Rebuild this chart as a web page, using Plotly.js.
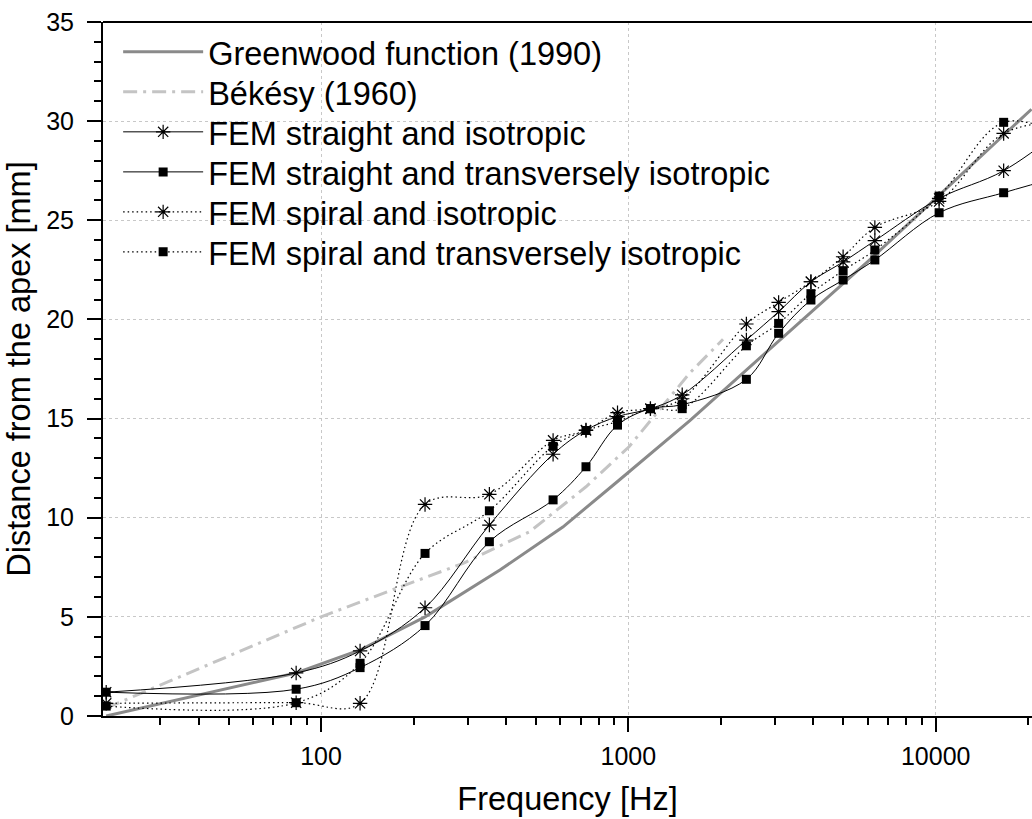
<!DOCTYPE html>
<html>
<head>
<meta charset="utf-8">
<script src="https://cdn.plot.ly/plotly-3.0.1.min.js"></script>
<style>html,body{margin:0;padding:0;background:#fff;}#chart{width:1032px;height:819px;}</style>
</head>
<body>
<div id="chart"></div>
<script>
// Frequencies of the FEM evaluation points [Hz] (last one lies beyond the visible range)
const femFreq = [20, 83, 134, 218, 353, 569, 728, 922, 1180, 1497, 2421, 3083, 3927, 4998, 6340, 10260, 16640, 26900];
// Distance from the apex [mm]
const straightIso   = [1.2, 2.17, 3.28, 5.46, 9.63, 13.2, 14.42, 15.1, 15.5, 16.2, 18.96, 20.39, 21.9, 22.9, 23.97, 26.1, 27.5, 29.8];
const straightTrans = [1.2, 1.35, 2.44, 4.56, 8.79, 10.9, 12.57, 14.67, 15.5, 15.7, 16.98, 19.3, 20.98, 21.99, 23.0, 25.38, 26.39, 27.3];
const spiralIso     = [0.64, 0.67, 0.64, 10.67, 11.18, 13.9, 14.4, 15.3, 15.5, 16.0, 19.77, 20.86, 21.9, 23.16, 24.64, 25.95, 29.38, 30.0];
const spiralTrans   = [0.5, 0.67, 2.66, 8.2, 10.35, 13.6, 14.4, 14.85, 15.5, 15.5, 18.67, 19.8, 21.3, 22.46, 23.5, 26.22, 29.94, 29.2];

const greenwoodFreq = [20, 83, 134, 218, 382, 612, 918, 1585, 6098, 20500];
const greenwoodDist = [0, 2.17, 3.33, 5.0, 7.36, 9.53, 11.8, 14.9, 23.0, 30.6];

const bekesyFreq = [20, 100, 176, 290, 478, 728, 1005, 1265, 1585, 2033];
const bekesyDist = [0.4, 5.0, 6.44, 7.7, 9.3, 11.56, 13.58, 15.43, 17.3, 19.0];

const seriesNames = [
  'Greenwood function (1990)',
  'Békésy (1960)',
  'FEM straight and isotropic',
  'FEM straight and transversely isotropic',
  'FEM spiral and isotropic',
  'FEM spiral and transversely isotropic'
];

const xTickVals = [100, 1000, 10000];
const xTickText = ['100', '1000', '10000'];
const xMinorVals = [30,40,50,60,70,80,90,200,300,400,500,600,700,800,900,2000,3000,4000,5000,6000,7000,8000,9000,20000];

const FONT = 'Liberation Sans, Arial, Helvetica, sans-serif';
const legendIds = ['legend', 'legend2', 'legend3', 'legend4', 'legend5', 'legend6'];
const legendRowY = [0.9565, 0.8988, 0.8412, 0.7835, 0.7259, 0.6683];

const dotted = '1.5px,3px';
const traces = [
  {x: greenwoodFreq, y: greenwoodDist, mode: 'lines',
   line: {color: '#8a8a8a', width: 3}},
  {x: bekesyFreq, y: bekesyDist, mode: 'lines',
   line: {color: '#c4c4c4', width: 3, dash: '14px,6px,3px,6px'}},
  {x: femFreq, y: straightIso, mode: 'lines+markers',
   line: {color: '#000', width: 1, shape: 'spline', smoothing: 1},
   marker: {symbol: 'asterisk-open', size: 12, color: '#000', line: {color: '#000', width: 1.2}}},
  {x: femFreq, y: straightTrans, mode: 'lines+markers',
   line: {color: '#000', width: 1, shape: 'spline', smoothing: 1},
   marker: {symbol: 'square', size: 9, color: '#000'}},
  {x: femFreq, y: spiralIso, mode: 'lines+markers',
   line: {color: '#000', width: 1.2, shape: 'spline', smoothing: 1, dash: dotted},
   marker: {symbol: 'asterisk-open', size: 12, color: '#000', line: {color: '#000', width: 1.2}}},
  {x: femFreq, y: spiralTrans, mode: 'lines+markers',
   line: {color: '#000', width: 1.2, shape: 'spline', smoothing: 1, dash: dotted},
   marker: {symbol: 'square', size: 9, color: '#000'}}
];
traces.forEach((t, i) => { t.name = seriesNames[i]; t.legend = legendIds[i]; t.showlegend = true; });

const layout = {
  width: 1032, height: 819,
  margin: {l: 103, r: 0, t: 22, b: 103},
  paper_bgcolor: '#fff', plot_bgcolor: '#fff',
  font: {family: FONT, color: '#000', size: 25},
  showlegend: true,
  xaxis: {
    type: 'log', range: [1.2906, 4.3134],
    tickmode: 'array', tickvals: xTickVals, ticktext: xTickText,
    ticks: 'outside', ticklen: 14, tickwidth: 2, tickcolor: '#000',
    ticklabelstandoff: 3,
    showline: true, linewidth: 2, linecolor: '#000', mirror: false,
    showgrid: true, gridcolor: '#c8c8c8', gridwidth: 1, griddash: 'dot',
    zeroline: false,
    tickfont: {family: FONT, size: 25, color: '#000'},
    minor: {tickmode: 'array', tickvals: xMinorVals, ticks: 'outside', ticklen: 7, tickwidth: 2, tickcolor: '#000',
            showgrid: false, gridcolor: 'rgba(0,0,0,0)', gridwidth: 0},
    title: {text: 'Frequency [Hz]', font: {family: FONT, size: 32.5, color: '#000'}, standoff: 18}
  },
  yaxis: {
    range: [0, 35], tickmode: 'linear', tick0: 0, dtick: 5,
    ticks: 'outside', ticklen: 14, tickwidth: 2, tickcolor: '#000',
    ticklabelstandoff: 8,
    showline: true, linewidth: 2, linecolor: '#000', mirror: false,
    showgrid: true, gridcolor: '#c8c8c8', gridwidth: 1, griddash: 'dot',
    zeroline: false,
    tickfont: {family: FONT, size: 25, color: '#000'},
    minor: {dtick: 1, ticks: 'outside', ticklen: 7, tickwidth: 2, tickcolor: '#000',
            showgrid: false, gridcolor: 'rgba(0,0,0,0)', gridwidth: 0},
    title: {text: 'Distance from the apex [mm]', font: {family: FONT, size: 32.5, color: '#000'}, standoff: 6}
  },
  shapes: [
    {type: 'line', xref: 'paper', yref: 'paper', x0: 0, x1: 1, y0: 1, y1: 1, line: {color: '#000', width: 2}}
  ]
};
legendIds.forEach((id, i) => {
  layout[id] = {x: 0.0163, y: legendRowY[i], xanchor: 'left', yanchor: 'middle',
                bgcolor: 'rgba(0,0,0,0)', borderwidth: 0,
                font: {family: FONT, size: 32.5, color: '#000'}, itemwidth: 80};
});

Plotly.newPlot('chart', traces, layout, {displayModeBar: false, staticPlot: true});
</script>
</body>
</html>
